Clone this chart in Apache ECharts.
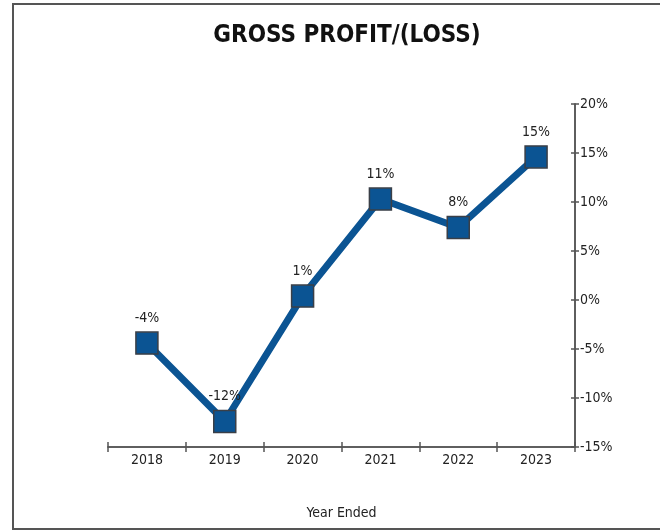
<!DOCTYPE html>
<html>
<head>
<meta charset="utf-8">
<script src="https://cdn.jsdelivr.net/npm/echarts@6/dist/echarts.min.js"></script>
<style>
  html, body { margin: 0; padding: 0; background: #fff; }
  #frame {
    position: absolute; left: 12px; top: 3px; width: 700px; height: 523px;
    border-left: 2px solid #555; border-top: 2px solid #555; border-bottom: 2px solid #555;
  }
  #chart { position: absolute; left: 0; top: 0; width: 660px; height: 531px; }
</style>
</head>
<body>
<div id="frame"></div>
<div id="chart"></div>
<script>
const years = ['2018', '2019', '2020', '2021', '2022', '2023']
const margins = [-4.4, -12.4, 0.4, 10.3, 7.4, 14.6]
const marginLabels = ['-4%', '-12%', '1%', '11%', '8%', '15%']

const font = '"DejaVu Sans Condensed", "Liberation Sans Narrow", sans-serif'
const axisColor = '#555'

const myChart = echarts.init(document.getElementById('chart'))

// two x axes so ticks cross the line (one inside, one outside)
const xBase = {
  type: 'category',
  data: years,
  position: 'bottom',
  boundaryGap: true,
  axisLine: { onZero: false, lineStyle: { color: axisColor, width: 1.5 } },
  splitLine: { show: false }
}
const yBase = {
  type: 'value',
  position: 'right',
  min: -15,
  max: 20,
  interval: 5,
  splitLine: { show: false },
  axisLine: { show: true, onZero: false, lineStyle: { color: axisColor, width: 1.5 } }
}

const option = {
  backgroundColor: 'transparent',
  animation: false,
  title: {
    text: 'GROSS PROFIT/(LOSS)',
    left: 342,
    top: 19,
    textAlign: 'center',
    textStyle: { fontFamily: font, fontSize: 24, fontWeight: 'bold', color: '#111' }
  },
  grid: { left: 108, right: 85, top: 104, bottom: 84 },
  xAxis: [
    Object.assign({}, xBase, {
      name: 'Year Ended',
      nameLocation: 'middle',
      nameGap: 59,
      nameTextStyle: { fontFamily: font, fontSize: 14, color: '#222' },
      axisTick: { show: true, length: 5, lineStyle: { color: axisColor, width: 1.5 } },
      axisLabel: { fontFamily: font, fontSize: 14, color: '#222', margin: 6 }
    }),
    Object.assign({}, xBase, {
      axisTick: { show: true, inside: true, length: 5, lineStyle: { color: axisColor, width: 1.5 } },
      axisLabel: { show: false }
    })
  ],
  yAxis: [
    Object.assign({}, yBase, {
      axisTick: { show: true, length: 4, lineStyle: { color: axisColor, width: 1.5 } },
      axisLabel: { fontFamily: font, fontSize: 14, color: '#222', margin: 5, formatter: '{value}%' }
    }),
    Object.assign({}, yBase, {
      axisTick: { show: true, inside: true, length: 4, lineStyle: { color: axisColor, width: 1.5 } },
      axisLabel: { show: false }
    })
  ],
  series: [
    {
      type: 'line',
      xAxisIndex: 0,
      yAxisIndex: 0,
      data: margins,
      symbol: 'rect',
      symbolSize: 22,
      lineStyle: { color: '#0b5493', width: 7 },
      itemStyle: { color: '#0b5493', borderColor: '#3a3f47', borderWidth: 1.5 },
      label: {
        show: true,
        position: 'top',
        distance: 6,
        fontFamily: font,
        fontSize: 14,
        color: '#222',
        formatter: p => marginLabels[p.dataIndex]
      }
    }
  ]
}
myChart.setOption(option)
</script>
</body>
</html>
